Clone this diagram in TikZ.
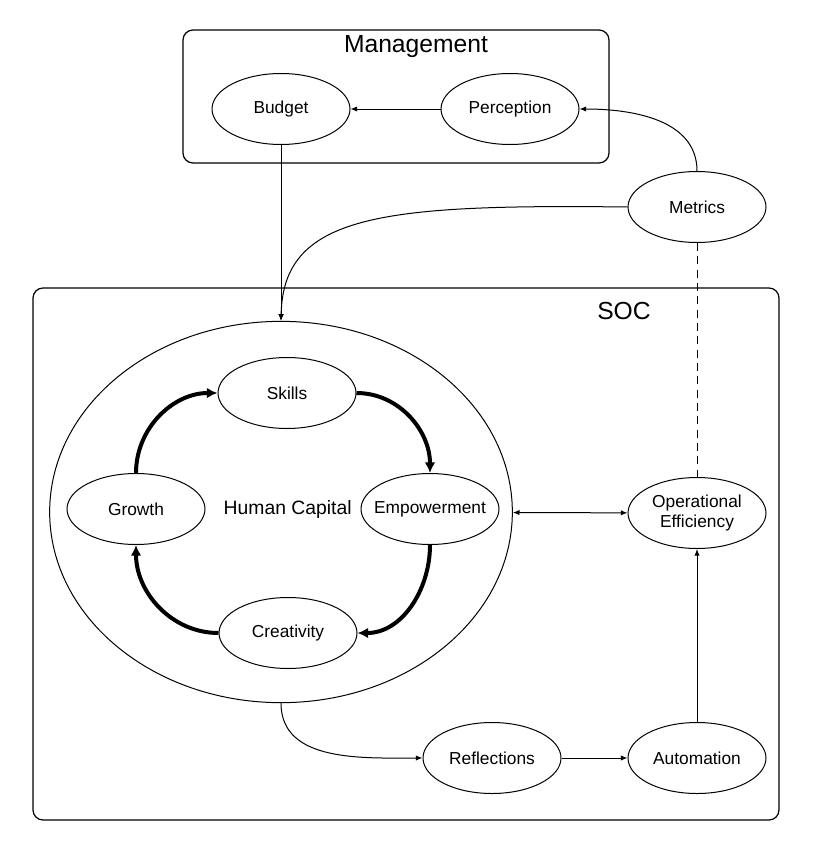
\documentclass[tikz,border=0pt]{standalone}
\usepackage{fontspec}
\setmainfont{Liberation Sans}
\usetikzlibrary{
  shapes.geometric,
  arrows.meta,
  positioning
}

\begin{document}
\begin{tikzpicture}[x=0.75pt,y=-0.75pt,
  ell/.style={ellipse,draw,line width=0.75pt,minimum width=103.5pt,minimum height=53.25pt,
    inner sep=0pt,align=center,font=\fontsize{13}{15.5}\selectfont},
  flow/.style={line width=0.75pt,-{Latex[length=5pt,width=4pt]}},
  loopflow/.style={line width=3pt,-{Latex[length=8pt,width=8pt]}},
  box/.style={draw,line width=0.9pt,rounded corners=7.5pt},
  title/.style={font=\fontsize{18.5}{22}\selectfont}]
  \useasboundingbox (0,0) rectangle (814,853);
  \draw[box] (183,30) rectangle (609,163);
  \draw[box] (33,288) rectangle (779,820);
  \node[title] (1) at (416,47) {Management};
  \node[title] (2) at (624,311) {SOC};
  \node[ell] (3) at (281,109) {\makebox[0pt]{Budget}};
  \node[ell] (4) at (510,109) {\makebox[0pt]{Perception}};
  \node[ell] (5) at (697,207) {\makebox[0pt]{Metrics}};
  \node[ellipse,draw,line width=0.75pt,minimum width=347pt,minimum height=286pt,inner sep=0pt,
    label={[font=\fontsize{14.5}{17}\selectfont,xshift=5pt,yshift=2pt]center:Human Capital}] (6) at (281,512) {};
  \node[ell] (7) at (287,393) {\makebox[0pt]{Skills}};
  \node[ell] (8) at (430,509) {\makebox[0pt]{Empowerment}};
  \node[ell] (9) at (288,633) {\makebox[0pt]{Creativity}};
  \node[ell] (10) at (136,509) {\makebox[0pt]{Growth}};
  \node[ell] (11) at (492,758) {\makebox[0pt]{Reflections}};
  \node[ell] (12) at (697,513) {\makebox[0pt]{Operational}\\\makebox[0pt]{Efficiency}};
  \node[ell] (13) at (697,758) {\makebox[0pt]{Automation}};
  \draw[loopflow] (10.north) to[out=90,in=180] (7.west);
  \draw[loopflow] (7.east) to[out=0,in=90] (8.north);
  \draw[loopflow] (8.south) to[out=-90,in=0] (9.east);
  \draw[loopflow] (9.west) to[out=180,in=-90] (10.south);
  \draw[flow] (4) -- (3);
  \draw[flow] (3) -- (6);
  \draw[flow] (5.north) to[out=90,in=0] (4.east);
  \draw[flow] (5.west) .. controls (380,204) and (283,215) .. (6.north);
  \draw[line width=0.75pt,dash pattern=on 6pt off 4pt] (5) -- (12);
  \draw[flow,{Latex[length=5pt,width=4pt]}-{Latex[length=5pt,width=4pt]}] (6) -- (12);
  \draw[flow] (6.south) to[out=-90,in=180] (11.west);
  \draw[flow] (11) -- (13);
  \draw[flow] (13) -- (12);
\end{tikzpicture}
\end{document}
